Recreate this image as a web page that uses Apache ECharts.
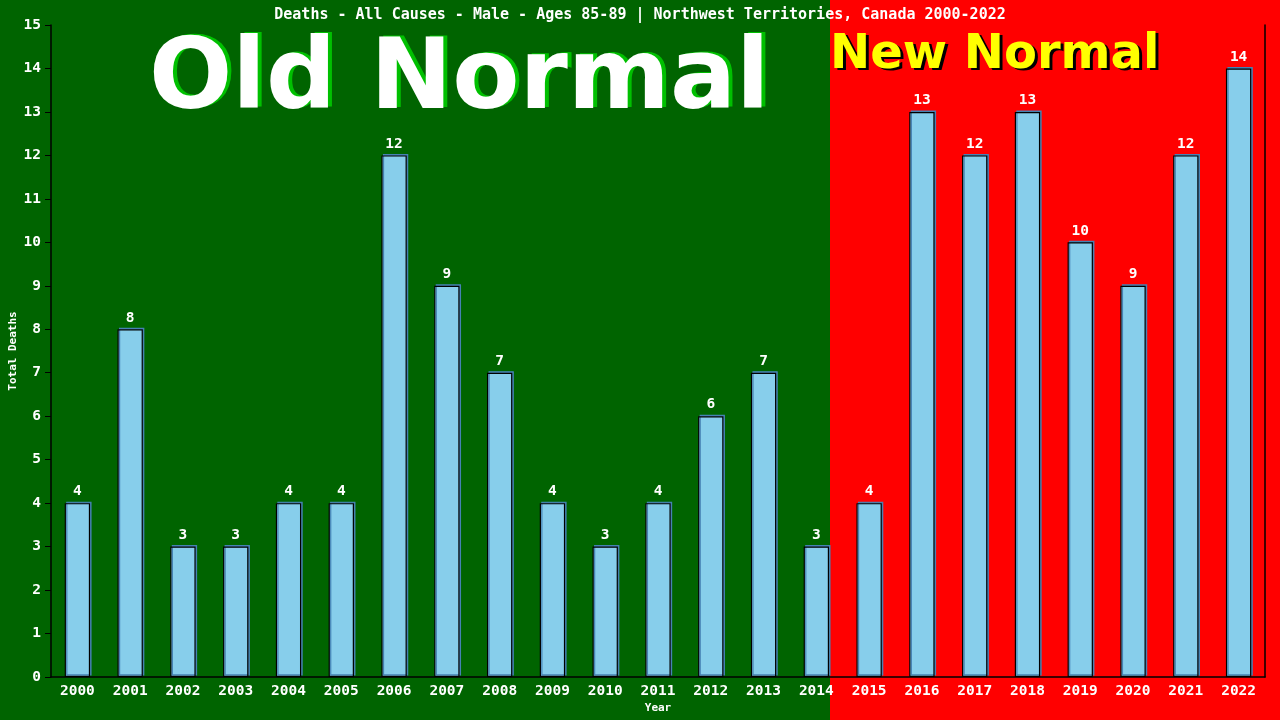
<!DOCTYPE html>
<html lang="en">
<head>
	<meta charset="UTF-8">
	<title>Deaths - All Causes - Male - Ages 85-89 | Northwest Territories</title>
	<style type="text/css">
		html, body { margin: 0; padding: 0; background: #006400; }
		#a { width: 1280px; height: 720px; }
	</style>
</head>
<body>
	<div id="a"></div>
	<script type="text/javascript" src="https://cdn.jsdelivr.net/npm/echarts@6/dist/echarts.min.js"></script>
	<script type="text/javascript">
		// data
		var years = ['2000','2001','2002','2003','2004','2005','2006','2007','2008','2009','2010','2011',
			'2012','2013','2014','2015','2016','2017','2018','2019','2020','2021','2022'];
		var deaths = [4, 8, 3, 3, 4, 4, 12, 9, 7, 4, 3, 4, 6, 7, 3, 4, 13, 12, 13, 10, 9, 12, 14];
		var yTicks = [0, 15, 1]; // min, max, interval

		var mono = '"DejaVu Sans Mono", monospace';
		var myChart = echarts.init(document.getElementById('a'));

		var option = {
			backgroundColor: '#006400',
			animation: false,
			title: {
				text: 'Deaths - All Causes - Male - Ages 85-89 | Northwest Territories, Canada 2000-2022',
				left: 'center',
				top: 3,
				textStyle: { color: '#fff', fontFamily: mono, fontSize: 15, fontWeight: 'bold' }
			},
			grid: { left: 51, right: 15, top: 25, bottom: 43, outerBoundsMode: 'none', containLabel: false },
			xAxis: {
				type: 'category',
				data: years,
				name: 'Year',
				nameLocation: 'middle',
				nameGap: 26,
				nameMoveOverlap: false,
				nameTextStyle: { color: '#fff', fontFamily: mono, fontSize: 11, fontWeight: 'bold' },
				axisLine: { lineStyle: { color: '#000', width: 1.5 } },
				axisTick: { show: false },
				axisLabel: { color: '#fff', fontFamily: mono, fontSize: 14.5, fontWeight: 'bold', margin: 7 }
			},
			yAxis: [{
				type: 'value',
				min: yTicks[0],
				max: yTicks[1],
				interval: yTicks[2],
				name: 'Total Deaths',
				nameLocation: 'middle',
				nameGap: 32,
				nameMoveOverlap: false,
				nameTextStyle: { color: '#fff', fontFamily: mono, fontSize: 11, fontWeight: 'bold' },
				axisLine: { show: true, lineStyle: { color: '#000', width: 1.5 } },
				axisTick: { show: true, length: 6, lineStyle: { color: '#000' } },
				axisLabel: { color: '#fff', fontFamily: mono, fontSize: 14.5, fontWeight: 'bold', margin: 10 },
				splitLine: { show: false }
			}, {
				type: 'value',
				position: 'right',
				min: yTicks[0],
				max: yTicks[1],
				interval: yTicks[2],
				axisLine: { show: true, lineStyle: { color: '#000', width: 1.5 } },
				axisTick: { show: false },
				axisLabel: { show: false },
				splitLine: { show: false }
			}],
			graphic: [
				// "new normal" red backdrop from 2015 onward
				{ type: 'rect', z: -10, shape: { x: 830, y: 0, width: 450, height: 720 }, style: { fill: '#ff0000' } },
				{ type: 'text', z: 1, left: 153, top: 33, style: { text: 'Old Normal', fill: '#00c000',
					font: 'bold 98px "DejaVu Sans", sans-serif' } },
				{ type: 'text', z: 1, left: 149, top: 34, style: { text: 'Old Normal', fill: '#ffffff',
					font: 'bold 98px "DejaVu Sans", sans-serif' } },
				{ type: 'text', z: 1, left: 833, top: 34, style: { text: 'New Normal', fill: '#000000',
					font: 'bold 48px "DejaVu Sans", sans-serif' } },
				{ type: 'text', z: 1, left: 830, top: 32, style: { text: 'New Normal', fill: '#ffff00',
					font: 'bold 48px "DejaVu Sans", sans-serif' } }
			],
			series: [{
				type: 'bar',
				data: deaths,
				barWidth: '48%',
				z: 5,
				itemStyle: {
					color: '#87ceeb',
					borderColor: '#000',
					borderWidth: 1.2,
					shadowColor: '#4682b4',
					shadowBlur: 0,
					shadowOffsetX: 1.5,
					shadowOffsetY: -1.5
				},
				label: {
					show: true,
					position: 'top',
					distance: 4,
					color: '#fff',
					fontFamily: mono,
					fontSize: 14.5,
					fontWeight: 'bold'
				}
			}]
		};
		myChart.setOption(option);
	</script>
</body>
</html>
